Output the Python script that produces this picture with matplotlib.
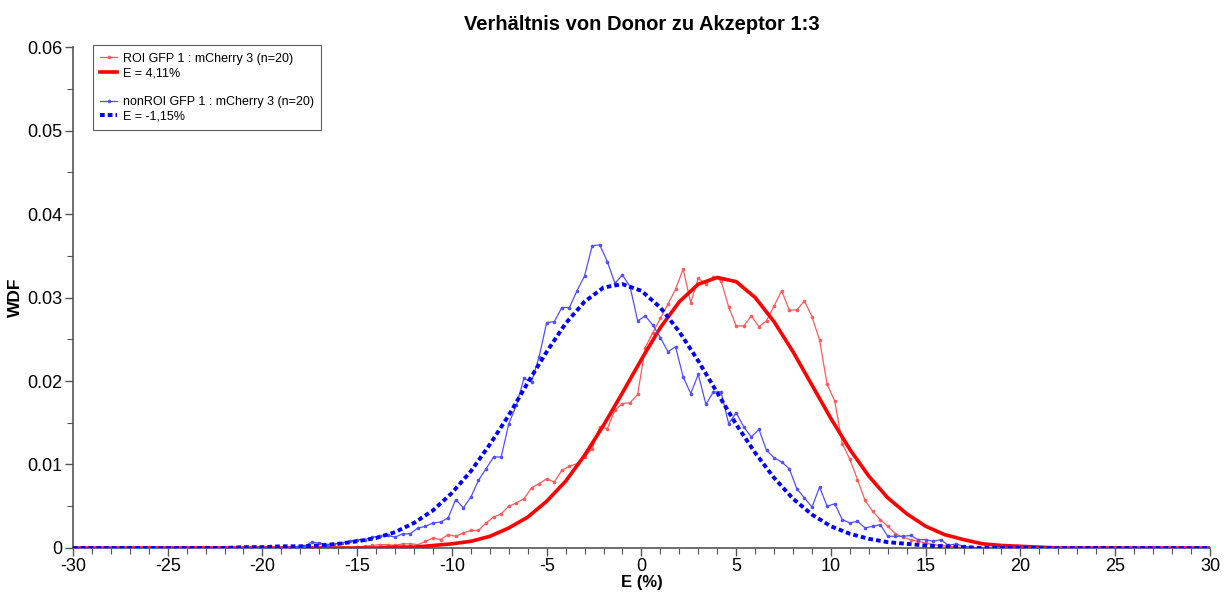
import numpy as np
import matplotlib
matplotlib.use('Agg')
import matplotlib.pyplot as plt
from matplotlib.lines import Line2D
from matplotlib.ticker import MultipleLocator, FuncFormatter

plt.rcParams['font.family'] = ['Liberation Sans', 'DejaVu Sans']
plt.rcParams['axes.unicode_minus'] = False

# histogram bins: 150 bins of 0.4 % between -30 and 30 (bin centres)
n_bins = 150
bin_start = -29.8
bin_width = 0.4

# ROI GFP 1 : mCherry 3, non-zero part starting at E = -15.0
roi_start = -15.0
roi_wdf = [0.0001, 0.0002, 0.0003, 0.0004, 0.0004, 0.0003, 0.0005, 0.0005, 0.0004, 0.0008,
           0.0012, 0.0010, 0.0016, 0.0014, 0.0018, 0.0021, 0.0021, 0.0030, 0.0037, 0.0041,
           0.0050, 0.0054, 0.0059, 0.0072, 0.0077, 0.0083, 0.0079, 0.0093, 0.0098, 0.0101,
           0.0109, 0.0119, 0.0145, 0.0143, 0.0165, 0.0173, 0.0174, 0.0184, 0.0240, 0.0258,
           0.0275, 0.0292, 0.0310, 0.0334, 0.0294, 0.0323, 0.0316, 0.0325, 0.0320, 0.0289,
           0.0266, 0.0266, 0.0278, 0.0265, 0.0272, 0.0290, 0.0308, 0.0285, 0.0285, 0.0296,
           0.0277, 0.0249, 0.0196, 0.0176, 0.0125, 0.0106, 0.0082, 0.0057, 0.0044, 0.0034,
           0.0026, 0.0017, 0.0013, 0.0010, 0.0008, 0.0006, 0.0004, 0.0003, 0.0002, 0.0001,
           0.0001]

# nonROI GFP 1 : mCherry 3, non-zero part starting at E = -18.2
nonroi_start = -18.2
nonroi_wdf = [0.0001, 0.0002, 0.0007, 0.0006, 0.0004, 0.0005, 0.0006, 0.0008, 0.0010, 0.0010,
              0.0013, 0.0014, 0.0015, 0.0013, 0.0017, 0.0017, 0.0024, 0.0026, 0.0030, 0.0031,
              0.0036, 0.0058, 0.0048, 0.0061, 0.0081, 0.0095, 0.0109, 0.0109, 0.0149, 0.0171,
              0.0203, 0.0199, 0.0229, 0.0270, 0.0271, 0.0288, 0.0288, 0.0308, 0.0326, 0.0362,
              0.0363, 0.0343, 0.0317, 0.0327, 0.0313, 0.0272, 0.0278, 0.0267, 0.0252, 0.0235,
              0.0241, 0.0205, 0.0185, 0.0208, 0.0172, 0.0187, 0.0187, 0.0149, 0.0162, 0.0145,
              0.0133, 0.0142, 0.0117, 0.0108, 0.0103, 0.0095, 0.0071, 0.0060, 0.0049, 0.0073,
              0.0050, 0.0053, 0.0034, 0.0030, 0.0032, 0.0024, 0.0026, 0.0028, 0.0014, 0.0014,
              0.0014, 0.0015, 0.0010, 0.0010, 0.0008, 0.0010, 0.0003, 0.0005, 0.0002, 0.0001]

# fitted curves, read at E = -30 ... 30 in steps of 1
fit_e = list(range(-30, 31))
roi_fit = [0, 0, 0, 0, 0, 0, 0, 0, 0, 0,
           0, 0, 0, 0, 0, 0, 0, 0.0001, 0.0001, 0.0003,
           0.0005, 0.0008, 0.0014, 0.0024, 0.0037, 0.0056, 0.0080, 0.0111, 0.0147, 0.0186,
           0.0226, 0.0264, 0.0295, 0.0316, 0.0324, 0.0319, 0.0300, 0.0271, 0.0235, 0.0195,
           0.0155, 0.0118, 0.0086, 0.0060, 0.0041, 0.0026, 0.0016, 0.0010, 0.0005, 0.0003,
           0.0002, 0.0001, 0, 0, 0, 0, 0, 0, 0, 0,
           0]
nonroi_fit = [0, 0, 0, 0, 0, 0, 0, 0, 0, 0.0001,
              0.0001, 0.0002, 0.0002, 0.0003, 0.0005, 0.0008, 0.0012, 0.0019, 0.0030, 0.0045,
              0.0066, 0.0092, 0.0124, 0.0159, 0.0198, 0.0235, 0.0269, 0.0295, 0.0312, 0.0316,
              0.0308, 0.0288, 0.0259, 0.0224, 0.0186, 0.0148, 0.0114, 0.0084, 0.0059, 0.0040,
              0.0026, 0.0017, 0.0011, 0.0007, 0.0005, 0.0003, 0.0002, 0.0001, 0, 0,
              0, 0, 0, 0, 0, 0, 0, 0, 0, 0,
              0]

e_bins = bin_start + bin_width * np.arange(n_bins)


def full_series(start, vals):
    y = np.zeros(n_bins)
    i0 = int(round((start - bin_start) / bin_width))
    y[i0:i0 + len(vals)] = vals
    return y


roi = full_series(roi_start, roi_wdf)
nonroi = full_series(nonroi_start, nonroi_wdf)

red_thin = '#ff5a5a'
blue_thin = '#5050ff'
dash = (0, (1.2, 0.8))

fig = plt.figure(figsize=(12.28, 5.93), dpi=100)
ax = fig.add_axes([0.0594, 0.0759, 0.9259, 0.8448])

ax.plot(e_bins, roi, color=red_thin, lw=0.9, marker='o', ms=1.6, zorder=2)
ax.plot(fit_e, roi_fit, color='red', lw=2.6, zorder=3)
ax.plot(e_bins, nonroi, color=blue_thin, lw=0.9, marker='o', ms=1.6, zorder=4)
ax.plot(fit_e, nonroi_fit, color='blue', lw=2.8, linestyle=dash, zorder=5)

ax.set_xlim(-30, 30)
ax.set_ylim(0, 0.06)
ax.xaxis.set_major_locator(MultipleLocator(5))
ax.xaxis.set_minor_locator(MultipleLocator(1))
ax.yaxis.set_major_locator(MultipleLocator(0.01))
ax.yaxis.set_minor_locator(MultipleLocator(0.005))
ax.yaxis.set_major_formatter(FuncFormatter(lambda v, p: '0' if abs(v) < 1e-9 else '%g' % v))

for s in ['top', 'right']:
    ax.spines[s].set_visible(False)
for s in ['left', 'bottom']:
    ax.spines[s].set_color('#555555')
    ax.spines[s].set_linewidth(1.2)
ax.tick_params(which='both', direction='out', color='#555555', labelsize=13, pad=1.5)
ax.tick_params(which='major', length=6, width=1.0)
ax.tick_params(which='minor', length=4, width=0.8)

ax.set_title('Verhältnis von Donor zu Akzeptor 1:3', fontsize=14.5, fontweight='bold', pad=12)
ax.set_xlabel('E (%)', fontsize=12, fontweight='bold', labelpad=0)
ax.set_ylabel('WDF', fontsize=12.5, fontweight='bold', labelpad=3)

handles = [
    Line2D([], [], color=red_thin, lw=0.9, marker='o', ms=1.6),
    Line2D([], [], color='red', lw=2.6),
    Line2D([], [], alpha=0),
    Line2D([], [], color=blue_thin, lw=0.9, marker='o', ms=1.6),
    Line2D([], [], color='blue', lw=2.8, linestyle=dash),
]
labels = ['ROI GFP 1 : mCherry 3 (n=20)', 'E = 4,11%', ' ',
          'nonROI GFP 1 : mCherry 3 (n=20)', 'E = -1,15%']
leg = ax.legend(handles, labels, loc='upper left', bbox_to_anchor=(0.0176, 1.004),
                borderaxespad=0, fontsize=9, frameon=True, fancybox=False,
                handlelength=1.3, handletextpad=0.5, labelspacing=0.2, borderpad=0.6)
leg.get_frame().set_edgecolor('#333333')
leg.get_frame().set_linewidth(0.8)

fig.savefig('out.png', dpi=100)
